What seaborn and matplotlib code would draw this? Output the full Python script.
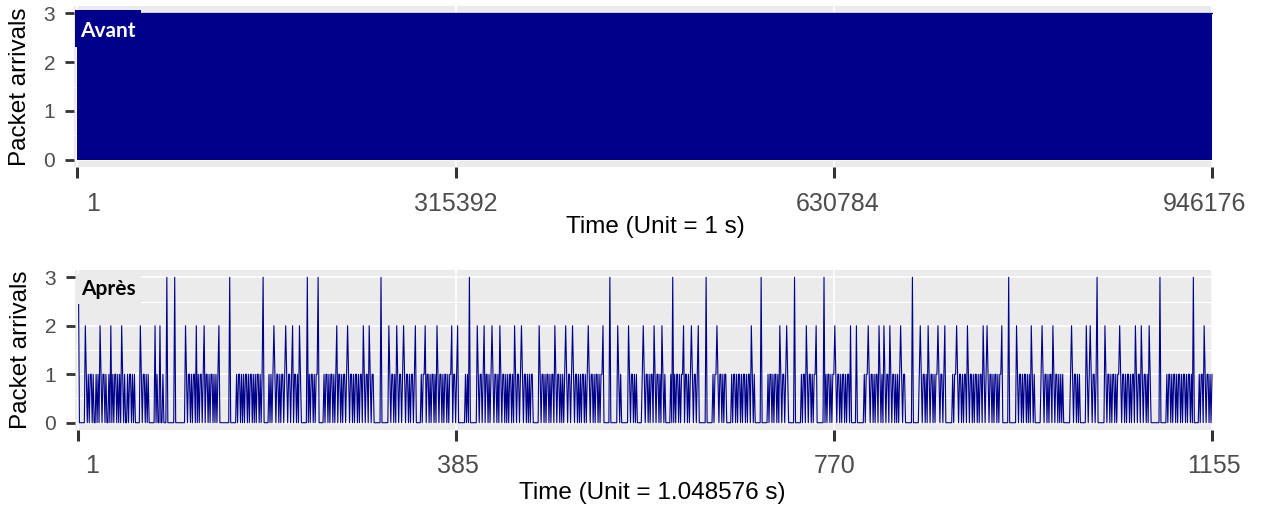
import matplotlib
matplotlib.use("Agg")
import matplotlib.pyplot as plt
import seaborn as sns
import pandas as pd
from matplotlib.patches import Rectangle
from matplotlib.transforms import ScaledTranslation

# ---------------- data ----------------
# "Avant": 946176 one-second bins; the trace fills the whole 0..3 band
before_time = [1, 946176]
before_max = [3, 3]
before_min = [0, 0]
before_ticks = [1, 315392, 630784, 946176]
before_ticklabels = ["1", "315392", "630784", "946176"]

# "Après": packet arrivals per 1.048576 s bin (1155 bins), 50 bins per row
after_rows = [
    "30000002101011010010102101101001020101101010210100",
    "10110101000002101101010000002010020010003000000030",
    "00000000021011010110201011012011010110101012000000",
    "00003000000101101010110101101010110101300000101012",
    "10110101101210110120110102100000030101101011300000",
    "10110101101012011010110121011010110101102101102101",
    "10000000300000002101101021011012101101011012000001",
    "01120110101101021011010110101120110120000000101030",
    "00000021011012011010121011010210110101011010210110",
    "12101101010110000002101101011010110210110101012101",
    "10121011010101101012101101011010112000000300000002",
    "10100000002101101010000012101101011021011010210100",
    "00010301011010112011010121011012000000030000001011",
    "21011010110000010110101101011010110210100000030000",
    "00101101011010210110121000000300000010110210110101",
    "12000000030101101011210110101101011020000020000000",
    "10112101101011021010210110210110101012101100000003",
    "00000012101101021011010112101101200000001011210110",
    "10110210110101101011021012101101011010112000000300",
    "00000210110101101010210100000012101101011021011010",
    "10100000001210110101000000210121011013000000021011",
    "01011010112101101011010110210110210110102100000000",
    "03000000101101011010110101101011010300000101102101",
    "10101",
]
after_ticks = [1, 385, 770, 1155]
after_ticklabels = ["1", "385", "770", "1155"]
y_ticks = [0, 1, 2, 3]
y_minor = [0.5, 1.5, 2.5]

after_values = [int(c) for c in "".join(after_rows)]
after_time = list(range(1, len(after_values) + 1))

df_before = pd.DataFrame({"time": before_time, "hi": before_max, "lo": before_min})
df_after = pd.DataFrame({"time": after_time, "arrivals": after_values})

# ---------------- style ----------------
sns.set_theme(style="darkgrid")
plt.rcParams["font.family"] = ["Liberation Sans", "DejaVu Sans"]

NAVY = "#00008B"
PANEL = "#EBEBEB"
W, H = 1264, 508

fig = plt.figure(figsize=(W / 100, H / 100), dpi=100)
ax1 = fig.add_axes([74 / W, 1 - 167 / H, (1213 - 74) / W, 161 / H])
ax2 = fig.add_axes([75 / W, 1 - 430 / H, (1213 - 75) / W, 160 / H])


def style_axes(ax):
    ax.set_facecolor(PANEL)
    for s in ax.spines.values():
        s.set_visible(False)
    ax.set_axisbelow(True)
    ax.set_yticks(y_ticks)
    ax.set_yticklabels([str(v) for v in y_ticks])
    ax.set_yticks(y_minor, minor=True)
    ax.grid(which="major", color="white", linewidth=1.2)
    ax.grid(which="minor", axis="y", color="white", linewidth=0.8)
    ax.grid(which="minor", axis="x", visible=False)
    ax.set_ylim(-0.15, 3.15)
    ax.tick_params(left=True, bottom=True)
    ax.tick_params(axis="y", which="major", left=True, length=6.5, width=2.0,
                   color="#333333", labelsize=15, labelcolor="#4D4D4D", pad=7)
    ax.tick_params(axis="y", which="minor", length=0)
    ax.tick_params(axis="x", which="major", bottom=True, length=8, width=2.2,
                   color="#333333", labelsize=18, labelcolor="#4D4D4D")
    ax.tick_params(axis="x", which="minor", length=0)


# ----- top panel -----
style_axes(ax1)
ax1.fill_between(df_before["time"], df_before["lo"], df_before["hi"],
                 color=NAVY, linewidth=0, zorder=2)
sns.lineplot(data=df_before, x="time", y="hi", ax=ax1, color=NAVY,
             linewidth=1, estimator=None, zorder=3)
R1 = before_time[-1] - before_time[0]
ax1.set_xlim(before_time[0] - 0.003 * R1, before_time[-1] + 0.0008 * R1)
ax1.set_xticks(before_ticks)
ax1.set_xticklabels(before_ticklabels)
ax1.tick_params(axis="x", pad=10)
ax1.set_xlabel("Time (Unit = 1 s)", fontsize=17.5, color="black")
ax1.xaxis.set_label_coords(0.51, -0.305)
ax1.set_ylabel("Packet arrivals", fontsize=17.5, color="black")
ax1.yaxis.set_label_coords(-0.038, 0.5)
fig.patches.append(Rectangle((75 / W, 1 - 47 / H), 66 / W, 37 / H,
                             transform=fig.transFigure, fc=NAVY, ec="none", zorder=4))
fig.text(80 / W, 1 - 31 / H, "Avant",
         family=["Lato", "DejaVu Sans"], fontweight="bold", fontsize=15,
         color="white", ha="left", va="center", zorder=5)

# ----- bottom panel -----
style_axes(ax2)
sns.lineplot(data=df_after, x="time", y="arrivals", ax=ax2, color=NAVY,
             linewidth=0.8, estimator=None, zorder=3)
ax2.set_xlim(after_time[0] - 3.5, after_time[-1] + 1)
ax2.set_xticks(after_ticks)
ax2.set_xticklabels(after_ticklabels)
ax2.tick_params(axis="x", pad=9)
ax2.set_xlabel("Time (Unit = 1.048576 s)", fontsize=17.5, color="black")
ax2.xaxis.set_label_coords(0.507, -0.325)
ax2.set_ylabel("Packet arrivals", fontsize=17.5, color="black")
ax2.yaxis.set_label_coords(-0.038, 0.5)
ax2.text(81 / W, 1 - 289 / H, "Après", transform=fig.transFigure,
         family=["Lato", "DejaVu Sans"], fontweight="bold", fontsize=15,
         color="black", ha="left", va="center", zorder=5,
         bbox=dict(boxstyle="square,pad=0.25", fc=PANEL, ec="none"))

# per-label horizontal nudges as seen in the reference
def nudge(ax, shifts):
    for lab, dx in zip(ax.get_xticklabels(), shifts):
        lab.set_transform(lab.get_transform() + ScaledTranslation(dx / 100, 0, fig.dpi_scale_trans))

nudge(ax1, [16, 0, 4, -8])
nudge(ax2, [14, 2, 1, 2])

fig.savefig("out.png", dpi=100)
